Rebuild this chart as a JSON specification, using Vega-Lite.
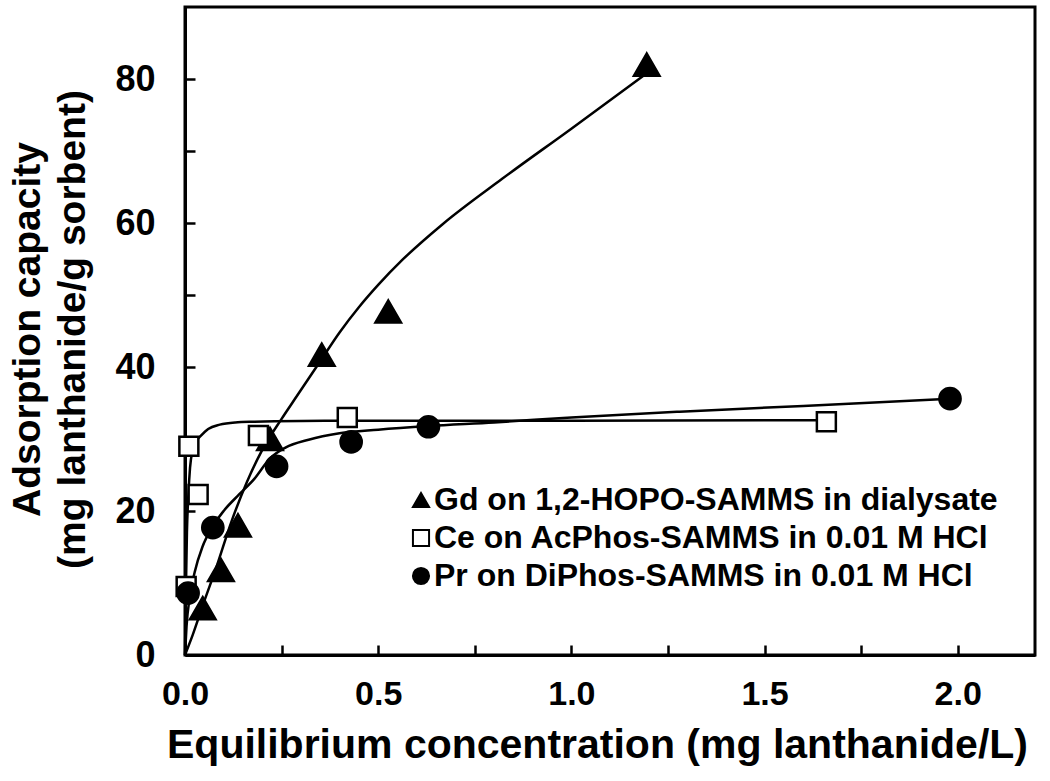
{
  "$schema": "https://vega.github.io/schema/vega-lite/v6.json",
  "width": 850,
  "height": 648,
  "autosize": {"type": "none"},
  "padding": {"left": 185, "top": 7, "right": 15, "bottom": 126},
  "background": "white",
  "config": {
    "view": {"stroke": "black", "strokeWidth": 3},
    "font": "Liberation Sans",
    "legend": {
      "orient": "none",
      "legendX": 220,
      "legendY": 477,
      "padding": 0,
      "rowPadding": 6,
      "symbolSize": 260,
      "symbolStrokeColor": "black",
      "symbolStrokeWidth": 2,
      "symbolOffset": 0,
      "labelOffset": -3,
      "labelFont": "Liberation Sans",
      "labelFontWeight": "bold",
      "labelFontSize": 32,
      "labelColor": "black",
      "labelLimit": 800
    }
  },
  "datasets": {
    "pts": [
      {"series": "Gd on 1,2-HOPO-SAMMS in dialysate", "x": 0.046, "y": 6.5},
      {"series": "Gd on 1,2-HOPO-SAMMS in dialysate", "x": 0.093, "y": 11.8},
      {"series": "Gd on 1,2-HOPO-SAMMS in dialysate", "x": 0.137, "y": 18},
      {"series": "Gd on 1,2-HOPO-SAMMS in dialysate", "x": 0.22, "y": 30},
      {"series": "Gd on 1,2-HOPO-SAMMS in dialysate", "x": 0.354, "y": 41.7},
      {"series": "Gd on 1,2-HOPO-SAMMS in dialysate", "x": 0.526, "y": 47.7},
      {"series": "Gd on 1,2-HOPO-SAMMS in dialysate", "x": 1.195, "y": 82},
      {"series": "Ce on AcPhos-SAMMS in 0.01 M HCl", "x": 0.003, "y": 9.5},
      {"series": "Ce on AcPhos-SAMMS in 0.01 M HCl", "x": 0.01, "y": 29},
      {"series": "Ce on AcPhos-SAMMS in 0.01 M HCl", "x": 0.034, "y": 22.3},
      {"series": "Ce on AcPhos-SAMMS in 0.01 M HCl", "x": 0.19, "y": 30.5},
      {"series": "Ce on AcPhos-SAMMS in 0.01 M HCl", "x": 0.42, "y": 33},
      {"series": "Ce on AcPhos-SAMMS in 0.01 M HCl", "x": 1.66, "y": 32.4},
      {"series": "Pr on DiPhos-SAMMS in 0.01 M HCl", "x": 0.008, "y": 8.6},
      {"series": "Pr on DiPhos-SAMMS in 0.01 M HCl", "x": 0.072, "y": 17.7},
      {"series": "Pr on DiPhos-SAMMS in 0.01 M HCl", "x": 0.237, "y": 26.2},
      {"series": "Pr on DiPhos-SAMMS in 0.01 M HCl", "x": 0.43, "y": 29.6},
      {"series": "Pr on DiPhos-SAMMS in 0.01 M HCl", "x": 0.63, "y": 31.7},
      {"series": "Pr on DiPhos-SAMMS in 0.01 M HCl", "x": 1.98, "y": 35.6}
    ],
    "fit": [
      {"series": "Gd", "x": 0, "y": 0},
      {"series": "Gd", "x": 0.02, "y": 2.8},
      {"series": "Gd", "x": 0.05, "y": 7.5},
      {"series": "Gd", "x": 0.08, "y": 12},
      {"series": "Gd", "x": 0.12, "y": 18.5},
      {"series": "Gd", "x": 0.16, "y": 24},
      {"series": "Gd", "x": 0.2, "y": 28.5},
      {"series": "Gd", "x": 0.25, "y": 32.8},
      {"series": "Gd", "x": 0.29, "y": 36},
      {"series": "Gd", "x": 0.35, "y": 40.8},
      {"series": "Gd", "x": 0.4, "y": 44.8},
      {"series": "Gd", "x": 0.45, "y": 48.3},
      {"series": "Gd", "x": 0.5, "y": 51.4},
      {"series": "Gd", "x": 0.563, "y": 54.9},
      {"series": "Gd", "x": 0.666, "y": 59.8},
      {"series": "Gd", "x": 0.82, "y": 66.1},
      {"series": "Gd", "x": 1.0, "y": 73.1},
      {"series": "Gd", "x": 1.19, "y": 80.6},
      {"series": "Ce", "x": 0, "y": 0},
      {"series": "Ce", "x": 0.002, "y": 8},
      {"series": "Ce", "x": 0.005, "y": 17},
      {"series": "Ce", "x": 0.009, "y": 22.5},
      {"series": "Ce", "x": 0.013, "y": 26},
      {"series": "Ce", "x": 0.02, "y": 28.5},
      {"series": "Ce", "x": 0.03, "y": 29.8},
      {"series": "Ce", "x": 0.04, "y": 30.4},
      {"series": "Ce", "x": 0.06, "y": 31.4},
      {"series": "Ce", "x": 0.09, "y": 32},
      {"series": "Ce", "x": 0.13, "y": 32.3},
      {"series": "Ce", "x": 0.18, "y": 32.4},
      {"series": "Ce", "x": 0.3, "y": 32.5},
      {"series": "Ce", "x": 0.6, "y": 32.55},
      {"series": "Ce", "x": 1.0, "y": 32.55},
      {"series": "Ce", "x": 1.66, "y": 32.6},
      {"series": "Pr", "x": 0, "y": 0},
      {"series": "Pr", "x": 0.004, "y": 4},
      {"series": "Pr", "x": 0.012, "y": 8},
      {"series": "Pr", "x": 0.025, "y": 11.5},
      {"series": "Pr", "x": 0.045, "y": 15},
      {"series": "Pr", "x": 0.07, "y": 17.7},
      {"series": "Pr", "x": 0.1, "y": 20},
      {"series": "Pr", "x": 0.14, "y": 22.3},
      {"series": "Pr", "x": 0.18, "y": 24.5},
      {"series": "Pr", "x": 0.22, "y": 27.3},
      {"series": "Pr", "x": 0.26, "y": 28.8},
      {"series": "Pr", "x": 0.32, "y": 29.9},
      {"series": "Pr", "x": 0.4, "y": 30.8},
      {"series": "Pr", "x": 0.5, "y": 31.3},
      {"series": "Pr", "x": 0.63, "y": 31.8},
      {"series": "Pr", "x": 0.8, "y": 32.3},
      {"series": "Pr", "x": 1.0, "y": 33},
      {"series": "Pr", "x": 1.28, "y": 33.8},
      {"series": "Pr", "x": 1.6, "y": 34.6},
      {"series": "Pr", "x": 1.98, "y": 35.6}
    ]
  },
  "encoding": {
    "x": {
      "field": "x",
      "type": "quantitative",
      "scale": {"domain": [0, 2.2], "nice": false, "zero": false},
      "axis": {
        "title": "Equilibrium concentration (mg lanthanide/L)",
        "values": [0, 0.25, 0.5, 0.75, 1, 1.25, 1.5, 1.75, 2],
        "labelExpr": "(datum.value * 2) % 1 == 0 ? format(datum.value, '.1f') : ''",
        "grid": false,
        "domainColor": "black",
        "domainWidth": 3,
        "tickColor": "black",
        "tickWidth": 2.5,
        "tickSize": -10,
        "labelFont": "Liberation Sans",
        "labelFontWeight": "bold",
        "labelFontSize": 34,
        "labelColor": "black",
        "labelPadding": 32,
        "labelFlush": false,
        "labelOverlap": false,
        "titleFont": "Liberation Sans",
        "titleFontWeight": "bold",
        "titleFontSize": 41,
        "titleColor": "black",
        "titleX": 412,
        "titleY": 90,
        "titleBaseline": "middle",
        "titleAlign": "center"
      }
    },
    "y": {
      "field": "y",
      "type": "quantitative",
      "scale": {"domain": [0, 90], "nice": false},
      "axis": {
        "title": ["Adsorption capacity", "(mg lanthanide/g sorbent)"],
        "values": [0, 10, 20, 30, 40, 50, 60, 70, 80],
        "labelExpr": "datum.value % 20 == 0 ? format(datum.value, 'd') : ''",
        "grid": false,
        "domainColor": "black",
        "domainWidth": 3,
        "tickColor": "black",
        "tickWidth": 2.5,
        "tickSize": -10,
        "labelFont": "Liberation Sans",
        "labelFontWeight": "bold",
        "labelFontSize": 36,
        "labelColor": "black",
        "labelPadding": 40,
        "labelFlush": false,
        "labelOverlap": false,
        "titleFont": "Liberation Sans",
        "titleFontWeight": "bold",
        "titleFontSize": 39,
        "titleLineHeight": 45,
        "titleColor": "black",
        "titleAngle": -90,
        "titleX": -158,
        "titleY": 322,
        "titleBaseline": "middle",
        "titleAlign": "center"
      }
    },
    "shape": {
      "field": "series",
      "type": "nominal",
      "scale": {
        "domain": ["Gd on 1,2-HOPO-SAMMS in dialysate", "Ce on AcPhos-SAMMS in 0.01 M HCl", "Pr on DiPhos-SAMMS in 0.01 M HCl"],
        "range": ["triangle-up", "square", "circle"]
      },
      "legend": {"title": null}
    },
    "fill": {
      "field": "series",
      "type": "nominal",
      "scale": {
        "domain": ["Gd on 1,2-HOPO-SAMMS in dialysate", "Ce on AcPhos-SAMMS in 0.01 M HCl", "Pr on DiPhos-SAMMS in 0.01 M HCl"],
        "range": ["black", "white", "black"]
      },
      "legend": {"title": null}
    },
    "stroke": {
      "field": "series",
      "type": "nominal",
      "scale": {
        "domain": ["Gd on 1,2-HOPO-SAMMS in dialysate", "Ce on AcPhos-SAMMS in 0.01 M HCl", "Pr on DiPhos-SAMMS in 0.01 M HCl"],
        "range": ["black", "black", "black"]
      },
      "legend": {"title": null}
    }
  },
  "layer": [
    {
      "data": {"name": "fit"},
      "mark": {"type": "line", "color": "black", "strokeWidth": 2.5, "interpolate": "monotone"},
      "encoding": {"detail": {"field": "series"}, "shape": null, "fill": null, "stroke": null}
    },
    {
      "data": {"name": "pts"},
      "transform": [{"filter": "datum.series == 'Gd on 1,2-HOPO-SAMMS in dialysate'"}],
      "mark": {"type": "point", "strokeWidth": 2.5, "opacity": 1, "fillOpacity": 1, "size": 650}
    },
    {
      "data": {"name": "pts"},
      "transform": [{"filter": "datum.series == 'Ce on AcPhos-SAMMS in 0.01 M HCl'"}],
      "mark": {"type": "point", "strokeWidth": 2.5, "opacity": 1, "fillOpacity": 1, "size": 360}
    },
    {
      "data": {"name": "pts"},
      "transform": [{"filter": "datum.series == 'Pr on DiPhos-SAMMS in 0.01 M HCl'"}],
      "mark": {"type": "point", "strokeWidth": 2.5, "opacity": 1, "fillOpacity": 1, "size": 450}
    }
  ]
}
